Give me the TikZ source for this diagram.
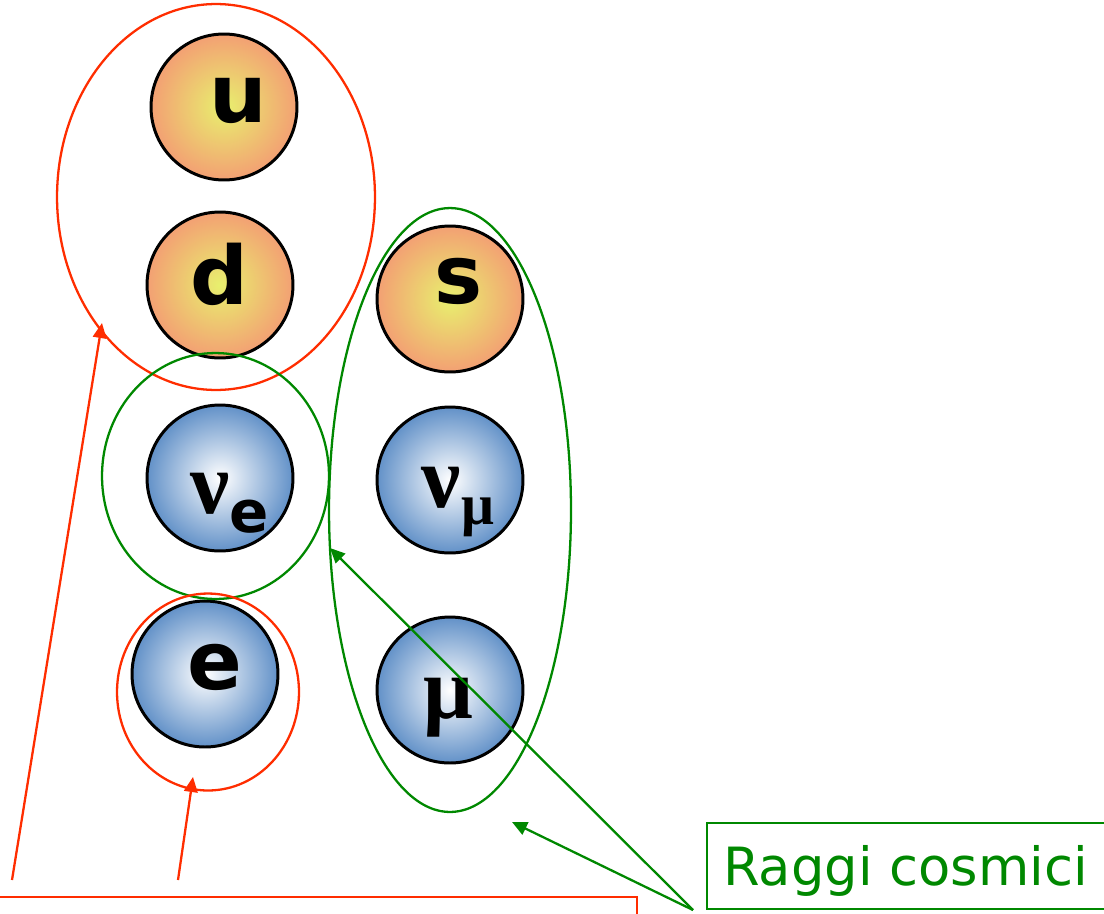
\documentclass[tikz,border=0pt]{standalone}
\usepackage{fontspec}
\usetikzlibrary{arrows.meta,shapes.geometric}
\newfontfamily\lblfont{DejaVu Sans}
\newfontfamily\grkfont{Liberation Serif}
\definecolor{myred}{RGB}{255,45,0}
\definecolor{mygreen}{RGB}{0,136,0}
\definecolor{orin}{RGB}{232,240,110}
\definecolor{orout}{RGB}{243,160,115}
\definecolor{blin}{RGB}{255,255,255}
\definecolor{blout}{RGB}{98,145,200}
\tikzset{
  ball/.style={circle, draw=black, line width=1.7pt, minimum size=2.92cm, inner sep=0pt},
  quark/.style={ball, inner color=orin, outer color=orout},
  lepton/.style={ball, inner color=blin, outer color=blout},
  lbl/.style={font=\lblfont\bfseries\fontsize{46}{46}\selectfont, anchor=base, inner sep=0pt},
  sublbl/.style={font=\lblfont\bfseries\fontsize{33}{33}\selectfont, anchor=base, inner sep=0pt},
  grk/.style={font=\grkfont\bfseries\fontsize{50}{50}\selectfont, anchor=base, inner sep=0pt},
  subgrk/.style={font=\grkfont\bfseries\fontsize{33}{33}\selectfont, anchor=base, inner sep=0pt},
  redring/.style={ellipse, draw=myred, line width=1.3pt, inner sep=0pt},
  greenring/.style={ellipse, draw=mygreen, line width=1.3pt, inner sep=0pt},
  redarrow/.style={draw=myred, line width=1.3pt, -{Triangle[length=0.3cm,width=0.27cm]}},
  greenarrow/.style={draw=mygreen, line width=1.3pt, -{Triangle[length=0.3cm,width=0.27cm]}},
}
\begin{document}
\begin{tikzpicture}[x=0.02cm, y=-0.02cm]
\useasboundingbox (0,0) rectangle (1104,913);
\clip (0,0) rectangle (1104,913);
% spheres
\node[quark] (u) at (224,107) {};
\node[quark] (d) at (220,285) {};
\node[quark] (s) at (450,299) {};
\node[lepton] (ne) at (220,478) {};
\node[lepton] (nm) at (450,480) {};
\node[lepton] (e) at (205,674) {};
\node[lepton] (mu) at (450,690) {};
% labels
\node[lbl] (ut) at (238,122) {u};
\node[lbl] (dt) at (219.5,304) {d};
\node[lbl] (st) at (459,303) {s};
\node[lbl] (et) at (215,689) {e};
\node[grk] (nut) at (210.5,513) {ν};
\node[sublbl] (nuet) at (249.5,532) {e};
\node[grk] (numt) at (441,507) {ν};
\node[subgrk] (numst) at (478,524) {μ};
\node[grk] (mut) at (448,718) {μ};
% rings
\node[redring, minimum width=6.36cm, minimum height=7.72cm] (r1) at (216,197) {};
\node[greenring, minimum width=4.54cm, minimum height=4.92cm] (g1) at (215.5,476) {};
\node[redring, minimum width=3.64cm, minimum height=3.94cm] (r2) at (208,692) {};
\node[greenring, minimum width=4.84cm, minimum height=12.08cm] (g2) at (450,510) {};
% bottom red box edge
\draw[myred, line width=1.5pt] (-10,897) -| (637,930);
% red arrows
\coordinate (ra1) at (12,880);
\coordinate (ra1e) at (102,323);
\coordinate (ra2) at (178,880);
\coordinate (ra2e) at (193,777);
\draw[redarrow] (ra1) -- (ra1e);
\draw[redarrow] (ra2) -- (ra2e);
% green label
\node[draw=mygreen, line width=1.3pt, minimum width=8.2cm, minimum height=1.72cm, anchor=north west, inner sep=0pt] (rc) at (706,822) {};
\node[font=\lblfont\fontsize{30}{30}\selectfont, text=mygreen, anchor=base west, inner sep=0pt] (rct) at (723,885) {Raggi cosmici};
\coordinate (ga) at (693,910);
\coordinate (ga1) at (330,548);
\coordinate (ga2) at (512,822);
\draw[greenarrow] (ga) -- (ga1);
\draw[greenarrow] (ga) -- (ga2);
\end{tikzpicture}
\end{document}
